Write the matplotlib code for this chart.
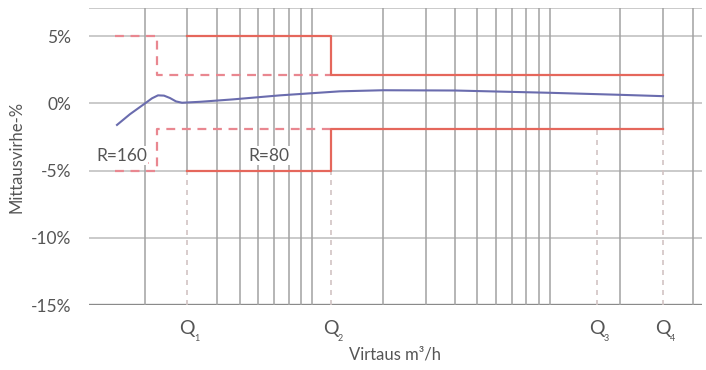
import matplotlib
matplotlib.use("Agg")
import matplotlib.pyplot as plt

plt.rcParams['font.family'] = ['Lato', 'DejaVu Sans']

# schematic flow axis (not a true log scale, positions)
grid_x = [145, 217, 240, 258, 274, 289, 301, 312,
          383, 426, 455, 477, 496, 512, 526, 539, 550, 620, 693]
grid_y = [7.1, 5, 0, -5, -10]

q_x = [187, 331, 597, 663]
q_names = ['1', '2', '3', '4']
q_from = [-5, -5, -1.9, -1.9]       # where the dashed marker starts (%)
q_solid_top = [True, False, False, True]

# R=80 limits (solid)
r80_x = [187, 331, 331, 663]
r80_up = [5, 5, 2.1, 2.1]
r80_lo = [-5, -5, -1.9, -1.9]

# R=160 limits (dashed)
r160_x = [115, 157, 157, 331]
r160_up = [5, 5, 2.1, 2.1]
r160_lo = [-5, -5, -1.9, -1.9]

# measured error curve
err_x = [117, 130, 145, 152, 158, 164, 170, 176, 182, 200, 233, 280, 340, 383,
         455, 550, 620, 663]
err_y = [-1.6, -0.8, 0.0, 0.38, 0.6, 0.58, 0.4, 0.15, 0.05, 0.12, 0.3, 0.6, 0.9,
         0.98, 0.96, 0.79, 0.64, 0.54]

grey = '#a2a2a2'
red = '#e5675c'
pink = '#e98790'
blue = '#6a6cae'
txt = '#555555'

fig = plt.figure(figsize=(7.06, 3.70), dpi=100)
ax = fig.add_axes([89 / 706, 65 / 370, 613 / 706, 297 / 370])
ax.set_xlim(89, 702)
ax.set_ylim(-15, 7.1)
for s in ax.spines.values():
    s.set_visible(False)

for y in grid_y:
    ax.axhline(y, color='#bcbcbc', lw=1.1, zorder=1)
ax.axhline(-15, color='#8a8a8a', lw=2.4, zorder=1)
for x in grid_x:
    ax.axvline(x, color=grey, lw=1.1, zorder=1)

# Q markers
for x, y0, solid in zip(q_x, q_from, q_solid_top):
    if solid:
        ax.plot([x, x], [y0, 7.1], color=grey, lw=1.1, zorder=1)
    ax.plot([x, x], [-15, y0], color='#d2c4c4', lw=1.2, ls=(0, (3, 3)), zorder=1)

ax.plot(r160_x, r160_up, color=pink, lw=1.6, ls=(0, (4, 3)), zorder=3)
ax.plot(r160_x, r160_lo, color=pink, lw=1.6, ls=(0, (4, 3)), zorder=3)
ax.plot([100, 150], [-4.4, -4.4], color=pink, lw=1.4, ls=(0, (4, 3)), zorder=3)
ax.plot(r80_x, r80_up, color=red, lw=1.6, zorder=4)
ax.plot(r80_x, r80_lo, color=red, lw=1.6, zorder=4)
ax.plot(err_x, err_y, color=blue, lw=1.5, zorder=5)

box = dict(facecolor='white', edgecolor='none', pad=1.0)
ax.text(96, -3.9, 'R=160', fontsize=12.5, color=txt, ha='left', va='center',
        bbox=box, zorder=4)
ax.text(248, -3.9, 'R=80', fontsize=12.5, color=txt, ha='left', va='center',
        bbox=box, zorder=6)

ax.set_yticks([5, 0, -5, -10, -15])
ax.set_yticklabels(['5%', '0%', '-5%', '-10%', '-15%'])
ax.tick_params(axis='y', length=0, pad=13, labelsize=12.5, labelcolor=txt)
ax.set_xticks([])

for x, n in zip(q_x, q_names):
    ax.text(x, -16.1, 'Q', fontsize=14, color=txt, ha='center', va='top')
    ax.text(x + 7, -17.15, n, fontsize=6.5, color=txt, ha='left', va='top')

ax.set_ylabel('Mittausvirhe-%', fontsize=12, color=txt, labelpad=4)
fig.text(395 / 706, 15 / 370, 'Virtaus m³/h', fontsize=12, color=txt,
         ha='center', va='center')

fig.savefig('out.png', dpi=100)
